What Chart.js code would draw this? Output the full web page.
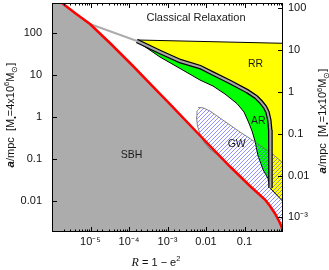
<!DOCTYPE html>
<html><head><meta charset="utf-8">
<script src="https://cdn.jsdelivr.net/npm/chart.js@4/dist/chart.umd.min.js"></script>
<style>html,body{margin:0;padding:0;background:#fff;}canvas{display:block;}</style>
</head><body>
<canvas id="c" width="329" height="270"></canvas>
<script>
// x: R = 1 - e^2 ; y: a / mpc (for M = 4x10^6 Msun); right axis: M = 1x10^6 Msun
const xRange = [1e-6, 1];
const yRange = [0.0018, 520];
const massRatio = 4;

// capture (SBH) boundary
const captureR = [1.82e-6, 3.95e-6, 9.7e-6, 3.2e-5, 1.27e-4, 3.95e-4, 1.16e-3, 6.98e-3, 0.042, 0.139, 0.340, 0.459, 0.619, 0.787, 0.914, 1.0];
const captureA = [520, 300, 164.1, 57.8, 16.35, 5.60, 2.03, 0.360, 0.0656, 0.0225, 0.01072, 0.0075, 0.00497, 0.00329, 0.00243, 0.00185];
// thin Schwarzschild-barrier line
const sbLineR = [9.7e-6, 1.61e-4];
const sbLineA = [164.1, 64.5];
// thick barrier band between RR and AR
const barrierR = [1.61e-4, 6.38e-4, 2.11e-3, 6.98e-3, 0.0152, 0.042, 0.116, 0.199, 0.269, 0.340, 0.395, 0.441, 0.466, 0.473, 0.473];
const barrierA = [64.5, 35.3, 21.5, 15.5, 10.8, 6.79, 4.14, 2.98, 2.26, 1.72, 1.31, 0.843, 0.487, 0.162, 0.0201];
// RR region top and bottom edges
const rrTopR = [1.61e-4, 1.0];
const rrTopA = [68.2, 56.9];
const rrBottomR = [1.0, 0.473];
const rrBottomA = [0.00959, 0.0196];
// AR region lower edge
const arLowerR = [0.473, 0.407, 0.303, 0.2245, 0.1875, 0.157, 0.127, 0.0970, 0.0638, 0.0312, 0.0152, 6.98e-3, 2.11e-3, 6.38e-4, 2.05e-4];
const arLowerA = [0.0201, 0.0339, 0.0556, 0.117, 0.266, 0.460, 0.755, 1.31, 2.08, 3.51, 5.45, 7.58, 14.3, 26.8, 54.7];
// GW region edges
const gwUpperR = [6.19e-3, 8.36e-3, 0.0127, 0.0231, 0.042, 0.0764, 0.139, 0.253, 0.518, 1.0];
const gwUpperA = [1.67, 1.65, 1.38, 0.940, 0.640, 0.436, 0.305, 0.208, 0.134, 0.0794];
const gwLowerR = [0.0294, 0.0193, 0.0127, 8.87e-3, 6.98e-3, 6.01e-3, 5.66e-3, 5.83e-3];
const gwLowerA = [0.0887, 0.127, 0.171, 0.252, 0.391, 0.607, 0.993, 1.38];

// tick labels
const xTickValues = [1e-5, 1e-4, 1e-3, 0.01, 0.1];
const xTickLabels = ['10\u207B\u2075', '10\u207B\u2074', '10\u207B\u00B3', '0.01', '0.1'];
const yTickValues = [0.01, 0.1, 1, 10, 100];
const yTickLabels = ['0.01', '0.1', '1', '10', '100'];
const y2TickValues = [0.001, 0.01, 0.1, 1, 10, 100];
const y2TickLabels = ['10\u207B\u00B3', '0.01', '0.1', '1', '10', '100'];

// region labels
const regionNames = ['Classical Relaxation', 'RR', 'AR', 'GW', 'SBH'];
const regionR = [5.5e-3, 0.193, 0.228, 0.0626, 1.17e-4];
const regionA = [234, 17.9, 0.80, 0.225, 0.123];

const pts = (xs, ys) => xs.map((x, i) => ({x, y: ys[i]}));
const capturePts = pts(captureR, captureA);
const sbhPoly = [{x: xRange[0], y: yRange[1]}].concat(capturePts, [{x: xRange[1], y: yRange[0]}, {x: xRange[0], y: yRange[0]}]);
const barrierPts = pts(barrierR, barrierA);
const rrPoly = pts(rrTopR, rrTopA).concat(pts(rrBottomR, rrBottomA), barrierPts.slice().reverse());
const arPoly = [{x: 2.05e-4, y: 57.8}].concat(barrierPts.slice(2), pts(arLowerR, arLowerA));
const gwPoly = pts(gwUpperR, gwUpperA).concat(capturePts.filter(p => p.x >= 0.04).reverse(), pts(gwLowerR, gwLowerA));

function makeHatch() {
  const c = document.createElement('canvas'); c.width = 4; c.height = 4;
  const g = c.getContext('2d');
  g.strokeStyle = 'rgba(70,70,255,0.6)'; g.lineWidth = 1;
  g.beginPath();
  g.moveTo(0, 4); g.lineTo(4, 0);
  g.moveTo(-1, 1); g.lineTo(1, -1);
  g.moveTo(3, 5); g.lineTo(5, 3);
  g.stroke();
  return g.createPattern(c, 'repeat');
}

const SANS = '"Liberation Sans", Arial, Helvetica, sans-serif';
const isPow10 = v => Math.abs(Math.log10(v) - Math.round(Math.log10(v))) < 1e-6;
function labelFor(v, vals, labs) {
  for (let i = 0; i < vals.length; i++) if (Math.abs(Math.log10(v) - Math.log10(vals[i])) < 1e-6) return labs[i];
  return '';
}

function drawRich(ctx, segs, cx, cy, rot) {
  ctx.save(); ctx.translate(cx, cy); ctx.rotate(rot);
  let w = 0;
  segs.forEach(s => { ctx.font = s.f; s.w = ctx.measureText(s.t).width; w += s.w; });
  let x = -w / 2; ctx.textBaseline = 'alphabetic'; ctx.textAlign = 'left'; ctx.fillStyle = '#111';
  segs.forEach(s => { ctx.font = s.f; ctx.fillText(s.t, x, s.dy || 0); x += s.w; });
  ctx.restore();
}

const decor = {
  id: 'decor',
  afterDatasetsDraw(chart) {
    const {ctx, chartArea: ca, scales} = chart;
    ctx.save();
    // region labels
    ctx.fillStyle = '#1a1a1a'; ctx.textAlign = 'center'; ctx.textBaseline = 'middle';
    regionNames.forEach((n, i) => {
      ctx.font = (i === 0 ? '11px ' : '10.5px ') + SANS;
      ctx.fillText(n, scales.x.getPixelForValue(regionR[i]), scales.y.getPixelForValue(regionA[i]));
    });
    // ticks
    ctx.strokeStyle = '#000'; ctx.lineWidth = 1;
    ctx.beginPath();
    scales.x.ticks.forEach(t => {
      const px = Math.round(scales.x.getPixelForValue(t.value)) + 0.5;
      if (px <= ca.left + 1 || px >= ca.right - 1) return;
      const L = isPow10(t.value) ? 5 : 2.5;
      ctx.moveTo(px, ca.bottom); ctx.lineTo(px, ca.bottom - L);
      ctx.moveTo(px, ca.top); ctx.lineTo(px, ca.top + L);
    });
    scales.y.ticks.forEach(t => {
      if (!isPow10(t.value)) return;
      const py = Math.round(scales.y.getPixelForValue(t.value)) + 0.5;
      ctx.moveTo(ca.left, py); ctx.lineTo(ca.left + 5, py);
    });
    scales.y2.ticks.forEach(t => {
      if (!isPow10(t.value)) return;
      const py = Math.round(scales.y2.getPixelForValue(t.value)) + 0.5;
      ctx.moveTo(ca.right, py); ctx.lineTo(ca.right - 5, py);
    });
    ctx.stroke();
    ctx.strokeRect(Math.round(ca.left) + 0.5, Math.round(ca.top) + 0.5, Math.round(ca.right - ca.left) - 1, Math.round(ca.bottom - ca.top) - 1);
    ctx.restore();
  },
  afterDraw(chart) {
    const {ctx} = chart;
    const big = '11px ' + SANS, small = '7.5px ' + SANS;
    drawRich(ctx, [
      {t: 'a', f: 'bold italic 11.5px ' + SANS}, {t: '/mpc  [M', f: big}, {t: '\u2022', f: small, dy: 3},
      {t: '=4x10', f: big}, {t: '6', f: small, dy: -4.5}, {t: 'M', f: big}, {t: '\u2299', f: small, dy: 3}, {t: ']', f: big}
    ], 13.5, 115, -Math.PI / 2);
    drawRich(ctx, [
      {t: 'a', f: 'bold italic 11.5px ' + SANS}, {t: '/mpc  [M', f: big}, {t: '\u2022', f: small, dy: 3},
      {t: '=1x10', f: big}, {t: '6', f: small, dy: -4.5}, {t: 'M', f: big}, {t: '\u2299', f: small, dy: 3}, {t: ']', f: big}
    ], 326, 121, -Math.PI / 2);
    drawRich(ctx, [
      {t: 'R', f: 'italic 12px "Liberation Serif", "Times New Roman", serif'}, {t: ' = 1 \u2212 e', f: big}, {t: '2', f: small, dy: -4.5}
    ], 156, 265.5, 0);
  }
};

const tickFont = {family: SANS, size: 11};
const fitV = w => function (s) { s.width = w; s.paddingTop = 0; s.paddingBottom = 0; };
new Chart(document.getElementById('c'), {
  type: 'scatter',
  data: {
    datasets: [
      {data: capturePts, showLine: true, borderColor: '#ff0000', borderWidth: 2.5, pointRadius: 0, fill: false, order: 0},
      {data: pts(sbLineR, sbLineA), showLine: true, borderColor: '#acacac', borderWidth: 2, pointRadius: 0, fill: false, order: 1},
      {data: barrierPts, showLine: true, borderColor: '#a8a8a8', borderWidth: 2, pointRadius: 0, fill: false, order: 2},
      {data: barrierPts, showLine: true, borderColor: '#000', borderWidth: 4.5, pointRadius: 0, fill: false, order: 3},
      {data: gwPoly, showLine: true, borderColor: '#666', borderWidth: 0.8, pointRadius: 0, fill: 'shape', backgroundColor: makeHatch(), order: 4},
      {data: arPoly, showLine: true, borderColor: '#000', borderWidth: 1, pointRadius: 0, fill: 'shape', backgroundColor: '#00ff00', order: 5},
      {data: rrPoly, showLine: true, borderColor: '#000', borderWidth: 1, pointRadius: 0, fill: 'shape', backgroundColor: '#ffff00', order: 6},
      {data: sbhPoly, showLine: true, borderColor: 'rgba(0,0,0,0)', borderWidth: 0, pointRadius: 0, fill: 'shape', backgroundColor: '#acacac', order: 7}
    ]
  },
  options: {
    responsive: false, animation: false, devicePixelRatio: 1,
    layout: {padding: {top: 3, left: 0, right: 0, bottom: 0}},
    plugins: {legend: {display: false}, tooltip: {enabled: false}},
    scales: {
      x: {type: 'logarithmic', position: 'bottom', min: xRange[0], max: xRange[1],
          grid: {display: false, drawTicks: false}, border: {display: false},
          ticks: {autoSkip: false, maxRotation: 0, minRotation: 0, padding: 3, color: '#111', font: tickFont,
                  callback: v => labelFor(v, xTickValues, xTickLabels)},
          afterFit(s) { s.height = 38; s.paddingLeft = 0; s.paddingRight = 0; }},
      y: {type: 'logarithmic', position: 'left', min: yRange[0], max: yRange[1],
          grid: {display: false, drawTicks: false}, border: {display: false},
          ticks: {autoSkip: false, padding: 10, color: '#111', font: tickFont,
                  callback: v => labelFor(v, yTickValues, yTickLabels)},
          afterFit: fitV(52)},
      y2: {type: 'logarithmic', position: 'right', min: yRange[0] / massRatio, max: yRange[1] / massRatio,
          grid: {display: false, drawTicks: false}, border: {display: false},
          ticks: {autoSkip: false, padding: 5, color: '#111', font: tickFont,
                  callback: v => labelFor(v, y2TickValues, y2TickLabels)},
          afterFit: fitV(46)}
    }
  },
  plugins: [decor]
});
</script>
</body></html>
